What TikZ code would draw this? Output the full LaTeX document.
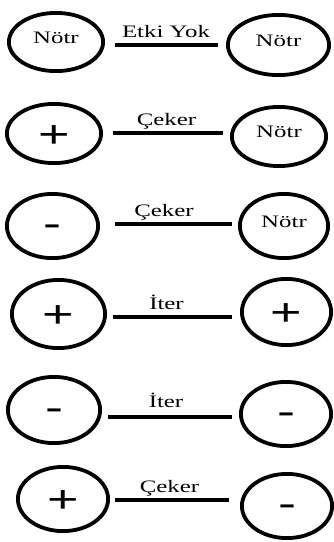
\documentclass[tikz,border=0pt]{standalone}
\usepackage{fontspec}
\usepackage{graphicx}
\setmainfont{Liberation Serif}
\newfontfamily\signfont{Liberation Sans}
\usetikzlibrary{shapes.geometric}
% horizontally widened lettering
\newcommand{\wide}[1]{\scalebox{1.42}[1]{#1}}

\begin{document}
\begin{tikzpicture}[x=1pt,y=-1pt,
  body/.style={ellipse, draw, line width=3.8pt, inner sep=0pt},
  ell/.style 2 args={minimum width={2*#1pt-3.8pt}, minimum height={2*#2pt-3.8pt}},
  neutral/.style={body, font=\fontsize{17.5}{20}\selectfont, text height=12pt, text depth=9.4pt},
  plusbody/.style={body, font=\signfont\fontsize{38}{40}\selectfont, text height=27pt, text depth=0pt},
  minusbody/.style={body, font=\signfont\fontsize{38}{40}\selectfont, text height=21pt, text depth=0pt},
  link/.style={line width=3.6pt},
  rel/.style={font=\fontsize{17.5}{20}\selectfont, inner sep=0pt, anchor=south,
              text height=12pt, text depth=0pt, yshift=6pt}
]
\useasboundingbox (0,0) rectangle (334,542);

% row 1: neutral - neutral
\node[neutral, ell={49}{31}]     (L1) at (56,42)    {\wide{Nötr}};
\node[neutral, ell={52.5}{32}]   (R1) at (278.5,45) {\wide{Nötr}};
\draw[link, shorten <=10pt, shorten >=8pt] (L1.east |- 0,45) --
  node[rel, xshift=0.5pt] {\wide{Etki Yok}} (R1.west |- 0,45);

% row 2: positive - neutral
\node[plusbody, ell={49}{31.5}]  (L2) at (54,133.5)  {\wide{+}};
\node[neutral, ell={49}{31.5}]   (R2) at (279,136.5) {\wide{Nötr}};
\draw[link, shorten <=10pt, shorten >=7pt] (L2.east |- 0,133) --
  node[rel] {\wide{Çeker}} (R2.west |- 0,133);

% row 3: negative - neutral
\node[minusbody, ell={47.5}{34}] (L3) at (52.5,226) {\wide{-}};
\node[neutral, ell={46}{34}]     (R3) at (284,226)  {\wide{Nötr}};
\draw[link, shorten <=15pt, shorten >=6pt] (L3.east |- 0,224) --
  node[rel, xshift=-5pt] {\wide{Çeker}} (R3.west |- 0,224);

% row 4: positive - positive
\node[plusbody, ell={48.5}{36}]  (L4) at (58.5,314) {\wide{+}};
\node[plusbody, ell={46.5}{35}]  (R4) at (286.5,312) {\wide{+}};
\draw[link, shorten <=6pt, shorten >=8pt] (L4.east |- 0,317) --
  node[rel, xshift=-7pt] {\wide{İter}} (R4.west |- 0,317);

% row 5: negative - negative
\node[minusbody, ell={48}{35}]   (L5) at (54,410)  {\wide{-}};
\node[minusbody, ell={47}{34}]   (R5) at (286,414) {\wide{-}};
\draw[link, shorten <=6pt, shorten >=7pt] (L5.east |- 0,417) --
  node[rel, xshift=-4.5pt, yshift=2pt] {\wide{İter}} (R5.west |- 0,417);

% row 6: positive - negative
\node[plusbody, ell={47}{34}]    (L6) at (63,499)  {\wide{+}};
\node[minusbody, ell={47}{34}]   (R6) at (287,506) {\wide{-}};
\draw[link, shorten <=5pt, shorten >=11pt] (L6.east |- 0,500) --
  node[rel, xshift=-5.5pt] {\wide{Çeker}} (R6.west |- 0,500);
\end{tikzpicture}
\end{document}
